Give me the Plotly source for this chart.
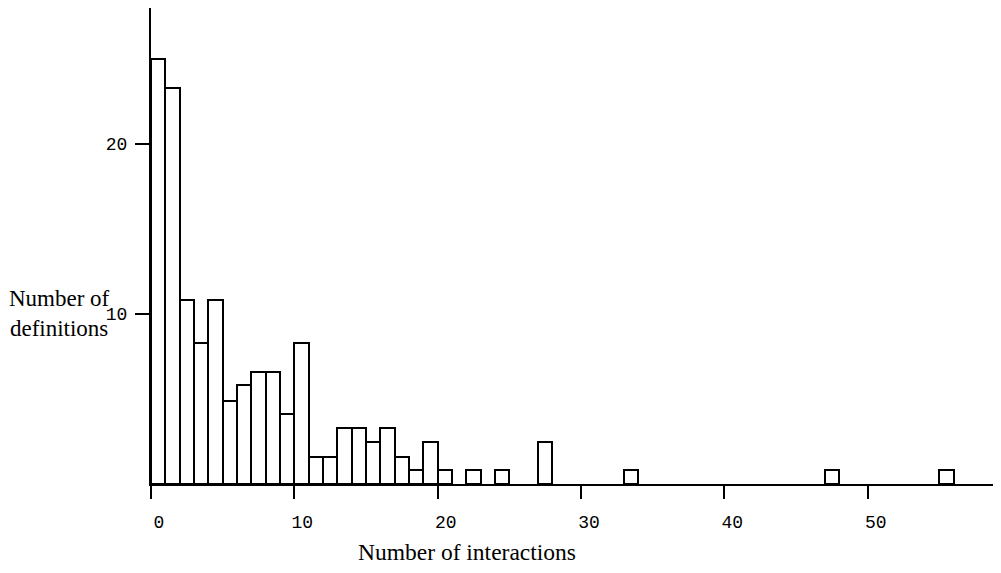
import plotly.graph_objects as go

# Bin start (number of interactions) and bar height (in y-axis units)
bin_start = [0, 1, 2, 3, 4, 5, 6, 7, 8, 9, 10, 11, 12, 13, 14, 15, 16, 17, 18, 19,
             20, 22, 24, 27, 33, 47, 55]
bar_height = [25.0, 23.3, 10.8, 8.3, 10.8, 4.9, 5.8, 6.6, 6.6, 4.1, 8.3, 1.6, 1.6, 3.3, 3.3,
              2.45, 3.3, 1.6, 0.8, 2.45, 0.8, 0.8, 0.8, 2.45, 0.8, 0.8, 0.8]

x_ticks = [0, 10, 20, 30, 40, 50]
y_ticks = [10, 20]

fig = go.Figure()
fig.add_trace(go.Bar(
    x=bin_start, y=bar_height, width=1, offset=0,
    marker=dict(color="white", line=dict(color="black", width=2)),
    showlegend=False,
))

mono = "Liberation Mono, Courier New, monospace"
serif = "Liberation Serif, Times New Roman, serif"

# the page body adds an 8px offset; size and margins compensate for it
fig.update_layout(
    width=993, height=557,
    margin=dict(l=143, r=0, t=0, b=81, autoexpand=False),
    paper_bgcolor="white", plot_bgcolor="white",
    bargap=0,
    xaxis=dict(range=[0, 59.3], tickvals=x_ticks, ticktext=[str(v) for v in x_ticks],
               ticks="outside", ticklen=13, tickwidth=2, tickcolor="black",
               showline=True, linecolor="black", linewidth=2, showgrid=False, zeroline=False,
               tickfont=dict(family=mono, size=18, color="black"),
               ticklabelshift=8, ticklabelstandoff=7),
    yaxis=dict(range=[0, 28], tickvals=y_ticks, ticktext=[str(v) for v in y_ticks],
               ticks="outside", ticklen=14, tickwidth=2, tickcolor="black",
               showline=True, linecolor="black", linewidth=2, showgrid=False, zeroline=False,
               tickfont=dict(family=mono, size=18, color="black"),
               ticklabelstandoff=4),
    annotations=[
        dict(text="Number of<br>definitions", xref="paper", yref="paper",
             x=-0.1082, y=0.359, xanchor="center", yanchor="middle", showarrow=False,
             align="center", font=dict(family=serif, size=23, color="black")),
        dict(text="Number of interactions", xref="paper", yref="paper",
             x=0.372, y=-0.1429, xanchor="center", yanchor="middle", showarrow=False,
             font=dict(family=serif, size=23.5, color="black")),
    ],
)

fig.write_html("out.html")
